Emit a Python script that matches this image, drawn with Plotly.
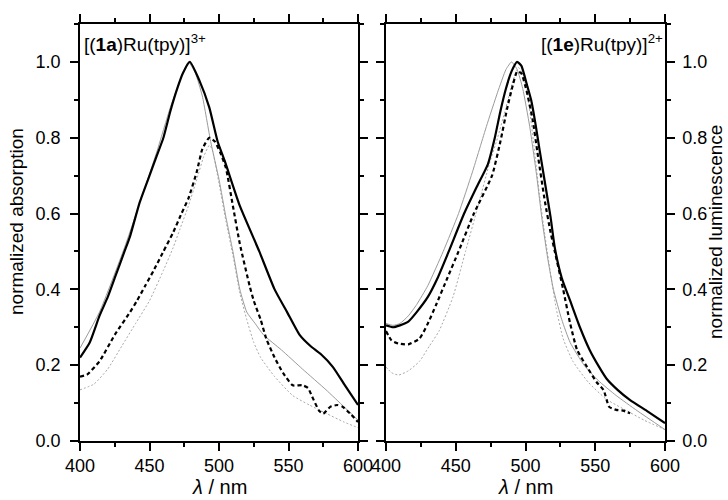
import plotly.graph_objects as go

# ---------------- Left panel: [(1a)Ru(tpy)]3+ ----------------
a_solid_x = [400, 407, 414, 420, 425, 432, 436, 443, 450, 455, 460, 465, 470, 474, 479,
             486, 493, 499, 504, 515, 529, 540, 549, 558, 566, 573, 582, 590, 600]
a_solid_y = [0.22, 0.26, 0.33, 0.38, 0.43, 0.50, 0.54, 0.63, 0.70, 0.75, 0.80, 0.87, 0.93, 0.97, 1.00,
             0.95, 0.88, 0.79, 0.74, 0.62, 0.50, 0.40, 0.34, 0.28, 0.25, 0.23, 0.195, 0.15, 0.095]

a_gray_x = [400, 414, 432, 455, 465, 474, 478, 483, 488, 494, 500, 505, 510, 515, 520,
            526, 532, 545, 560, 577, 590, 600]
a_gray_y = [0.245, 0.34, 0.51, 0.76, 0.88, 0.97, 1.00, 0.97, 0.91, 0.79, 0.69, 0.59, 0.50, 0.40, 0.34,
            0.31, 0.28, 0.24, 0.19, 0.135, 0.09, 0.055]

a_dash_x = [400, 405, 414, 425, 436, 441, 447, 453, 460, 467, 473, 478, 484, 488, 493,
            497, 501, 505, 510, 515, 522, 525, 530, 534, 540, 546, 553, 560, 564, 567,
            572, 575, 580, 585, 589, 595, 600]
a_dash_y = [0.17, 0.175, 0.21, 0.28, 0.34, 0.37, 0.41, 0.45, 0.50, 0.55, 0.60, 0.64, 0.71, 0.77, 0.80,
            0.79, 0.76, 0.72, 0.62, 0.52, 0.41, 0.37, 0.32, 0.27, 0.22, 0.18, 0.147, 0.147, 0.14, 0.117,
            0.08, 0.072, 0.09, 0.095, 0.09, 0.07, 0.05]

a_dot_x = [400, 410, 420, 430, 440, 450, 460, 467, 472, 478, 484, 489, 493,
           495, 500, 505, 510, 515, 520, 525, 530, 540, 553, 565, 577, 590, 600]
a_dot_y = [0.135, 0.15, 0.19, 0.25, 0.31, 0.37, 0.45, 0.51, 0.56, 0.62, 0.69, 0.75, 0.78,
           0.77, 0.68, 0.58, 0.49, 0.39, 0.32, 0.26, 0.22, 0.17, 0.12, 0.095, 0.073, 0.05, 0.035]

# ---------------- Right panel: [(1e)Ru(tpy)]2+ ----------------
e_solid_x = [400, 405, 410, 416, 422, 430, 437, 445, 456, 465, 473, 478, 482, 486, 490, 494,
             497, 501, 504, 507, 510, 514, 518, 521, 526, 532, 539, 546, 552, 558, 566, 575, 588, 600]
e_solid_y = [0.305, 0.30, 0.305, 0.315, 0.34, 0.38, 0.43, 0.50, 0.60, 0.67, 0.73, 0.80, 0.87, 0.93, 0.975, 1.00,
             0.99, 0.94, 0.90, 0.84, 0.77, 0.68, 0.59, 0.51, 0.43, 0.37, 0.30, 0.24, 0.20, 0.165, 0.135, 0.108, 0.077, 0.047]

e_gray_x = [400, 405, 410, 416, 422, 430, 441, 452, 462, 472, 480, 486, 490, 494, 498, 503,
            508, 512, 516, 520, 526, 532, 542, 552, 565, 580, 600]
e_gray_y = [0.31, 0.305, 0.31, 0.33, 0.36, 0.41, 0.50, 0.60, 0.71, 0.83, 0.92, 0.98, 1.00, 0.98, 0.93, 0.83,
            0.70, 0.58, 0.48, 0.40, 0.32, 0.26, 0.20, 0.16, 0.12, 0.08, 0.03]

e_dash_x = [400, 404, 409, 416, 424, 430, 436, 444, 452, 463, 476, 482, 487, 491, 494,
            497, 501, 505, 509, 514, 518, 521, 527, 532, 537, 545, 551, 556, 560, 565, 570, 575]
e_dash_y = [0.29, 0.265, 0.257, 0.255, 0.27, 0.31, 0.36, 0.43, 0.50, 0.60, 0.70, 0.79, 0.88, 0.94, 0.975,
            0.97, 0.92, 0.85, 0.75, 0.63, 0.55, 0.50, 0.40, 0.31, 0.24, 0.19, 0.155, 0.134, 0.09, 0.082, 0.08, 0.073]

e_dot_x = [400, 404, 409, 416, 424, 431, 438, 448, 457, 466, 474, 480, 486, 491, 495,
           498, 502, 506, 510, 514, 518, 522, 527, 534, 545, 558, 570, 585, 600]
e_dot_y = [0.195, 0.18, 0.174, 0.185, 0.21, 0.25, 0.29, 0.38, 0.50, 0.62, 0.73, 0.80, 0.88, 0.95, 0.985,
           0.97, 0.90, 0.78, 0.65, 0.54, 0.44, 0.35, 0.27, 0.21, 0.155, 0.11, 0.085, 0.055, 0.03]

x_ticks = [400, 450, 500, 550, 600]
y_ticks = [0.0, 0.2, 0.4, 0.6, 0.8, 1.0]

BLACK_W = 2.2
GRAY_C = "#9a9a9a"
DOT_C = "#a8a8a8"

fig = go.Figure()

def add_set(xs, ys, xa, ya, style):
    if style == "solid":
        line = dict(color="black", width=BLACK_W)
    elif style == "dash":
        line = dict(color="black", width=BLACK_W, dash="4px,3px")
    elif style == "gray":
        line = dict(color=GRAY_C, width=1)
    else:
        line = dict(color=DOT_C, width=1, dash="2px,2px")
    fig.add_trace(go.Scatter(x=xs, y=ys, mode="lines", line=dict(shape="spline", smoothing=0.5, **line),
                             xaxis=xa, yaxis=ya, showlegend=False, hoverinfo="skip"))

add_set(a_dot_x, a_dot_y, "x", "y", "dot")
add_set(a_gray_x, a_gray_y, "x", "y", "gray")
add_set(a_dash_x, a_dash_y, "x", "y", "dash")
add_set(a_solid_x, a_solid_y, "x", "y", "solid")

add_set(e_dot_x, e_dot_y, "x2", "y2", "dot")
add_set(e_gray_x, e_gray_y, "x2", "y2", "gray")
add_set(e_dash_x, e_dash_y, "x2", "y2", "dash")
add_set(e_solid_x, e_solid_y, "x2", "y2", "solid")

W, H = 728, 500
L1, R1 = 80 / W, 358 / W
L2, R2 = 386 / W, 665 / W
B, T = 1 - 441 / H, 1 - 24 / H

FONT = "Liberation Sans, Arial, sans-serif"
tickfont = dict(family=FONT, size=18, color="black")

xcommon = dict(range=[400, 600], tickvals=x_ticks, ticks="outside", ticklen=8, tickwidth=1.5,
               tickcolor="black", showline=True, linecolor="black", linewidth=1.5, mirror="ticks",
               showgrid=False, zeroline=False, tickfont=tickfont, automargin=False,
               minor=dict(dtick=25, tick0=400, ticks="outside", ticklen=4, tickwidth=1.5, tickcolor="black"))
ycommon = dict(range=[0, 1.1], tickvals=y_ticks, tickformat=".1f", ticks="outside", ticklen=8, tickwidth=1.5,
               tickcolor="black", showline=True, linecolor="black", linewidth=1.5, mirror="ticks",
               showgrid=False, zeroline=False, tickfont=tickfont, automargin=False,
               minor=dict(dtick=0.1, tick0=0, ticks="outside", ticklen=4, tickwidth=1.5, tickcolor="black"))

fig.update_layout(
    template="none",
    width=W, height=H, margin=dict(l=0, r=0, t=0, b=0, autoexpand=False),
    paper_bgcolor="white", plot_bgcolor="white",
    xaxis=dict(domain=[L1, R1], anchor="y", **xcommon),
    yaxis=dict(domain=[B, T], anchor="x", side="left", ticklabelstandoff=6, **ycommon),
    xaxis2=dict(domain=[L2, R2], anchor="y2", **xcommon),
    yaxis2=dict(domain=[B, T], anchor="x2", side="right", ticklabelstandoff=4, **ycommon),
    font=dict(family=FONT, color="black"),
)

ann_font = dict(family=FONT, size=19, color="black")
title_font = dict(family=FONT, size=20, color="black")
ytitle_font = dict(family=FONT, size=19, color="black")
fig.add_annotation(text="[(<b>1a</b>)Ru(tpy)]<sup>3+</sup>", xref="paper", yref="paper",
                   x=82 / W, y=1 - 43 / H, xanchor="left", yanchor="middle", showarrow=False, font=ann_font)
fig.add_annotation(text="[(<b>1e</b>)Ru(tpy)]<sup>2+</sup>", xref="paper", yref="paper",
                   x=665 / W, y=1 - 43 / H, xanchor="right", yanchor="middle", showarrow=False, font=ann_font)
fig.add_annotation(text="<i>λ</i> / nm", xref="paper", yref="paper", x=(L1 + R1) / 2, y=1 - 487 / H,
                   xanchor="center", yanchor="middle", showarrow=False, font=title_font)
fig.add_annotation(text="<i>λ</i> / nm", xref="paper", yref="paper", x=(L2 + R2) / 2, y=1 - 487 / H,
                   xanchor="center", yanchor="middle", showarrow=False, font=title_font)
fig.add_annotation(text="normalized absorption", xref="paper", yref="paper", x=17 / W, y=1 - 222 / H,
                   xanchor="center", yanchor="middle", textangle=-90, showarrow=False, font=ytitle_font)
fig.add_annotation(text="normalized luminescence", xref="paper", yref="paper", x=716 / W, y=1 - 232 / H,
                   xanchor="center", yanchor="middle", textangle=-90, showarrow=False, font=ytitle_font)

fig.write_html("out.html", config={"displayModeBar": False},
               post_script="document.body.style.margin='0';document.body.style.padding='0';")
